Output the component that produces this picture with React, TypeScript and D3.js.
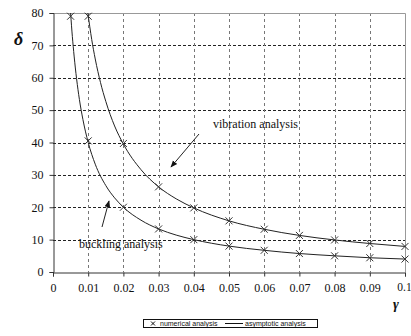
import { useEffect, useRef } from "react"
import * as d3 from "d3"

// numerical analysis points (crosses)
const vibGamma = [0.01, 0.02, 0.03, 0.04, 0.05, 0.06, 0.07, 0.08, 0.09, 0.1]
const vibNum = [79, 39.7, 26.3, 19.8, 15.8, 13.2, 11.3, 9.9, 8.8, 7.9]
const buckGamma = [0.005, 0.01, 0.02, 0.03, 0.04, 0.05, 0.06, 0.07, 0.08, 0.09, 0.1]
const buckNum = [79, 40.5, 20, 13.3, 10, 8, 6.7, 5.7, 5, 4.4, 4]

// asymptotic analysis curves
const vibCurveGamma = [0.0099, 0.011, 0.012, 0.0135, 0.015, 0.0175, 0.02, 0.025, 0.03, 0.035, 0.04, 0.05, 0.06, 0.07, 0.08, 0.09, 0.1]
const vibCurve = [80, 71.8, 65.8, 58.5, 52.7, 45.1, 39.5, 31.6, 26.3, 22.6, 19.8, 15.8, 13.2, 11.3, 9.9, 8.8, 7.9]
const buckCurveGamma = [0.005, 0.0055, 0.006, 0.0067, 0.0075, 0.0085, 0.01, 0.012, 0.015, 0.0175, 0.02, 0.025, 0.03, 0.035, 0.04, 0.05, 0.06, 0.07, 0.08, 0.09, 0.1]
const buckCurve = [80, 72.7, 66.7, 59.7, 53.3, 47.1, 40, 33.3, 26.7, 22.9, 20, 16, 13.3, 11.4, 10, 8, 6.7, 5.7, 5, 4.4, 4]

const xTicks = [0, 0.01, 0.02, 0.03, 0.04, 0.05, 0.06, 0.07, 0.08, 0.09, 0.1]
const xTickLabels = ["0", "0.01", "0.02", "0.03", "0.04", "0.05", "0.06", "0.07", "0.08", "0.09", "0.1"]
const yTicks = [0, 10, 20, 30, 40, 50, 60, 70, 80]

export default function App() {
  const ref = useRef<SVGSVGElement | null>(null)

  useEffect(() => {
    const svg = d3.select(ref.current)
    svg.selectAll("*").remove()

    const left = 53, right = 405, top = 13, bottom = 272

    const x = d3.scaleLinear().domain([0, 0.1]).range([left, right])
    const y = d3.scaleLinear().domain([0, 80]).range([bottom, top])

    const serif = "'Liberation Serif', 'Times New Roman', serif"

    // grid
    const grid = svg.append("g")
    grid.selectAll("line.h")
      .data(yTicks.slice(1, -1))
      .enter()
      .append("line")
      .attr("x1", left).attr("x2", right)
      .attr("y1", d => Math.round(y(d)) + 0.5).attr("y2", d => Math.round(y(d)) + 0.5)
      .attr("stroke", "#222").attr("stroke-dasharray", "3,2")
    grid.selectAll("line.v")
      .data(xTicks.slice(1, -1))
      .enter()
      .append("line")
      .attr("x1", d => Math.round(x(d)) + 0.5).attr("x2", d => Math.round(x(d)) + 0.5)
      .attr("y1", top).attr("y2", bottom)
      .attr("stroke", "#777").attr("stroke-dasharray", "3,3")

    // frame (top and right)
    svg.append("path")
      .attr("d", `M${left},${top + 0.5}H${right + 0.5}V${bottom}`)
      .attr("fill", "none").attr("stroke", "#999")

    // axes
    const xAxis = d3.axisBottom(x).tickValues(xTicks).tickSize(4)
      .tickFormat((_, i) => xTickLabels[i])
    const gx = svg.append("g").attr("transform", `translate(0,${bottom + 0.5})`).call(xAxis)
    gx.select(".domain").attr("stroke", "#333")
    gx.selectAll(".tick line").attr("stroke", "#333")
    gx.selectAll("text").attr("font-family", serif).attr("font-size", 12).attr("fill", "#111").attr("dy", "1.0em")
    // last label sits at the right edge
    gx.selectAll<SVGTextElement, number>("text").filter(d => d === 0.1).attr("dx", -1).attr("font-size", 11.5)

    const yAxis = d3.axisLeft(y).tickValues(yTicks).tickSize(4)
    const gy = svg.append("g").attr("transform", `translate(${left + 0.5},0)`).call(yAxis)
    gy.select(".domain").attr("stroke", "#333")
    gy.selectAll(".tick line").attr("stroke", "#333")
    gy.selectAll("text").attr("font-family", serif).attr("font-size", 12).attr("fill", "#111").attr("x", -10)

    // curves
    const line = d3.line<[number, number]>()
      .x(d => x(d[0])).y(d => y(d[1]))
      .curve(d3.curveMonotoneX)
    const curves = [
      vibCurveGamma.map((g, i) => [g, vibCurve[i]] as [number, number]),
      buckCurveGamma.map((g, i) => [g, buckCurve[i]] as [number, number]),
    ]
    svg.selectAll("path.curve")
      .data(curves)
      .enter()
      .append("path")
      .attr("class", "curve")
      .attr("d", d => line(d))
      .attr("fill", "none").attr("stroke", "#222").attr("stroke-width", 1)

    // crosses
    const pts = [
      ...vibGamma.map((g, i) => [g, vibNum[i]]),
      ...buckGamma.map((g, i) => [g, buckNum[i]]),
    ]
    const s = 3.5
    svg.selectAll("path.cross")
      .data(pts)
      .enter()
      .append("path")
      .attr("d", d => {
        const cx = x(d[0]), cy = y(d[1])
        return `M${cx - s},${cy - s}L${cx + s},${cy + s}M${cx - s},${cy + s}L${cx + s},${cy - s}`
      })
      .attr("stroke", "#333").attr("stroke-width", 1).attr("fill", "none")

    // annotations
    svg.append("defs").append("marker")
      .attr("id", "ah").attr("viewBox", "0 0 10 10").attr("refX", 9).attr("refY", 5)
      .attr("markerWidth", 7).attr("markerHeight", 7).attr("orient", "auto")
      .append("path").attr("d", "M0,1L10,5L0,9Z").attr("fill", "#111")

    svg.append("line")
      .attr("x1", 199).attr("y1", 134).attr("x2", 171).attr("y2", 167)
      .attr("stroke", "#222").attr("marker-end", "url(#ah)")
    svg.append("line")
      .attr("x1", 102).attr("y1", 227).attr("x2", 109).attr("y2", 201)
      .attr("stroke", "#222").attr("marker-end", "url(#ah)")

    svg.append("text").attr("x", 213).attr("y", 128)
      .attr("font-family", serif).attr("font-size", 12).attr("fill", "#111")
      .text("vibration analysis")
    svg.append("text").attr("x", 79).attr("y", 248)
      .attr("font-family", serif).attr("font-size", 12).attr("fill", "#111")
      .text("buckling analysis")

    // axis titles
    svg.append("text").attr("x", 14).attr("y", 45)
      .attr("font-family", serif).attr("font-size", 18).attr("font-weight", "bold")
      .attr("font-style", "italic").attr("fill", "#111").text("δ")
    svg.append("text").attr("x", 393).attr("y", 309)
      .attr("font-family", serif).attr("font-size", 14).attr("font-weight", "bold")
      .attr("font-style", "italic").attr("fill", "#111").text("γ")

    // legend
    const lg = svg.append("g")
    lg.append("rect").attr("x", 143.5).attr("y", 319.5).attr("width", 174).attr("height", 8)
      .attr("fill", "white").attr("stroke", "#111")
    lg.append("path").attr("d", "M151,321.5L155,325.5M151,325.5L155,321.5").attr("stroke", "#111")
    lg.append("text").attr("x", 160).attr("y", 326).attr("font-family", "'Liberation Sans', Arial, sans-serif")
      .attr("font-size", 7).attr("fill", "#111").text("numerical analysis")
    lg.append("line").attr("x1", 225).attr("x2", 243).attr("y1", 323.5).attr("y2", 323.5).attr("stroke", "#111")
    lg.append("text").attr("x", 245).attr("y", 326).attr("font-family", "'Liberation Sans', Arial, sans-serif")
      .attr("font-size", 7).attr("fill", "#111").text("asymptotic analysis")
  }, [])

  return (
    <div style={{ position: "absolute", left: 0, top: 0 }}>
      <svg ref={ref} width={411} height={336} style={{ display: "block", background: "white" }} />
    </div>
  )
}
